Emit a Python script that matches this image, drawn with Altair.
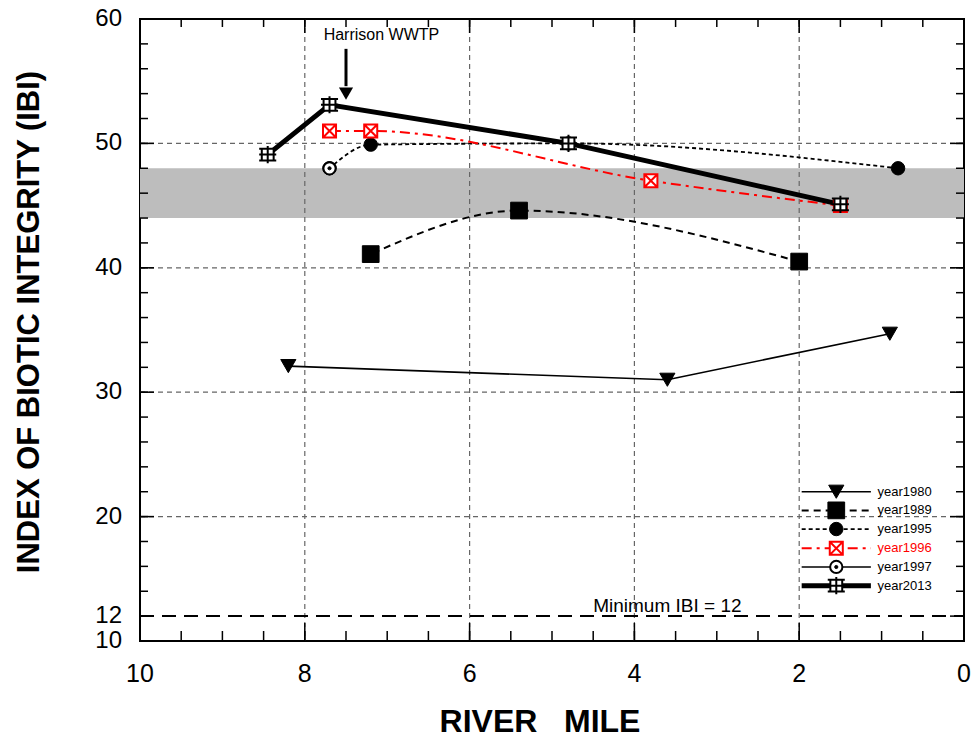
import altair as alt
import pandas as pd

# ---------------- data ----------------
years = ["year1980", "year1989", "year1995", "year1996", "year1997", "year2013"]

mile1980 = [8.2, 3.6, 0.9]
ibi1980 = [32.1, 31.0, 34.7]

mile1989 = [7.2, 5.4, 2.0]
ibi1989 = [41.1, 44.6, 40.5]

mile1995 = [7.7, 7.2, 4.8, 0.8]
ibi1995 = [48.0, 49.9, 50.0, 48.0]

mile1996 = [7.7, 7.2, 3.8, 1.5]
ibi1996 = [51.0, 51.0, 47.0, 45.0]

mile1997 = [7.7]
ibi1997 = [48.0]

mile2013 = [8.45, 7.7, 4.8, 1.5]
ibi2013 = [49.1, 53.1, 50.0, 45.1]

band_low, band_high = 44, 48
min_ibi = 12
grid_x = [8, 6, 4, 2]
grid_y = [20, 30, 40, 50]
x_tick_labels = [0, 2, 4, 6, 8, 10]
y_tick_labels = [10, 12, 20, 30, 40, 50, 60]
wwtp_mile = 7.5

W, H = 824, 622
FONT = "Liberation Sans Narrow, Liberation Sans, Arial"

xs = alt.Scale(domain=[0, 10], reverse=True, nice=False, zero=False)
ys = alt.Scale(domain=[10, 60], nice=False, zero=False)


def df(m, v):
    return pd.DataFrame({"mile": m, "ibi": v})


def X(**kw):
    return alt.X("mile:Q", scale=xs, axis=None, **kw)


def Y(**kw):
    return alt.Y("ibi:Q", scale=ys, axis=None, **kw)


layers = []

# gray band
layers.append(
    alt.Chart(pd.DataFrame({"lo": [band_low], "hi": [band_high]}))
    .mark_rect(color="#bdbdbd")
    .encode(x=alt.value(0), x2=alt.value(W),
            y=alt.Y("lo:Q", scale=ys, axis=None), y2="hi:Q")
)

# grid lines
layers.append(
    alt.Chart(pd.DataFrame({"mile": grid_x}))
    .mark_rule(color="#666666", strokeDash=[5, 4], strokeWidth=1.2)
    .encode(x=X(), y=alt.value(0), y2=alt.value(H))
)
layers.append(
    alt.Chart(pd.DataFrame({"ibi": grid_y}))
    .mark_rule(color="#666666", strokeDash=[5, 4], strokeWidth=1.2)
    .encode(y=Y(), x=alt.value(0), x2=alt.value(W))
)

# minimum IBI line
layers.append(
    alt.Chart(pd.DataFrame({"ibi": [min_ibi]}))
    .mark_rule(color="black", strokeDash=[14, 8], strokeWidth=2)
    .encode(y=Y(), x=alt.value(0), x2=alt.value(W))
)
layers.append(
    alt.Chart(pd.DataFrame({"mile": [3.6], "ibi": [12.85], "t": ["Minimum IBI = 12"]}))
    .mark_text(font=FONT, fontSize=19, color="black", align="center", baseline="middle")
    .encode(x=X(), y=Y(), text="t:N")
)

# ticks (inside)
y_minor = list(range(10, 61, 2))
x_minor = [i / 2 for i in range(0, 21)]
tick_style = dict(color="black", strokeWidth=1.5)
layers += [
    alt.Chart(pd.DataFrame({"ibi": y_minor})).mark_rule(**tick_style)
    .encode(y=Y(), x=alt.value(0), x2=alt.value(8)),
    alt.Chart(pd.DataFrame({"ibi": y_tick_labels})).mark_rule(**tick_style)
    .encode(y=Y(), x=alt.value(0), x2=alt.value(14)),
    alt.Chart(pd.DataFrame({"ibi": y_minor})).mark_rule(**tick_style)
    .encode(y=Y(), x=alt.value(W - 8), x2=alt.value(W)),
    alt.Chart(pd.DataFrame({"ibi": y_tick_labels})).mark_rule(**tick_style)
    .encode(y=Y(), x=alt.value(W - 14), x2=alt.value(W)),
    alt.Chart(pd.DataFrame({"mile": x_minor})).mark_rule(**tick_style)
    .encode(x=X(), y=alt.value(H - 10), y2=alt.value(H)),
    alt.Chart(pd.DataFrame({"mile": x_tick_labels})).mark_rule(**tick_style)
    .encode(x=X(), y=alt.value(H - 18), y2=alt.value(H)),
    alt.Chart(pd.DataFrame({"mile": x_minor})).mark_rule(**tick_style)
    .encode(x=X(), y=alt.value(0), y2=alt.value(8)),
    alt.Chart(pd.DataFrame({"mile": x_tick_labels})).mark_rule(**tick_style)
    .encode(x=X(), y=alt.value(0), y2=alt.value(14)),
]

# marker shapes
XBOX = "M-1,-1L1,-1L1,1L-1,1Z M-1,-1L1,1 M1,-1L-1,1"
GRIDBOX = "M-0.8,-0.8L0.8,-0.8L0.8,0.8L-0.8,0.8Z M0,-1.15L0,1.15 M-1.15,0L1.15,0 M-1.15,-0.8L-0.8,-0.8 M0.8,-0.8L1.15,-0.8 M-1.15,0.8L-0.8,0.8 M0.8,0.8L1.15,0.8"

# series lines
line_specs = [
    (mile1980, ibi1980, dict(color="black", strokeWidth=1.6, interpolate="linear")),
    (mile1989, ibi1989, dict(color="black", strokeWidth=2, strokeDash=[7, 5], interpolate="monotone")),
    (mile1995, ibi1995, dict(color="black", strokeWidth=1.8, strokeDash=[4, 3], interpolate="monotone")),
    (mile1996, ibi1996, dict(color="#ff0000", strokeWidth=2, strokeDash=[10, 5, 3, 5], interpolate="monotone")),
    (mile2013, ibi2013, dict(color="black", strokeWidth=5, interpolate="linear")),
]
for m, v, st in line_specs:
    layers.append(alt.Chart(df(m, v)).mark_line(**st).encode(x=X(), y=Y(), order="mile:Q"))


def marks(m, v, shape, size, fill, stroke, sw, filled=True):
    return (alt.Chart(df(m, v))
            .mark_point(shape=shape, size=size, filled=filled, fill=fill, stroke=stroke,
                        strokeWidth=sw, opacity=1, fillOpacity=1)
            .encode(x=X(), y=Y()))


layers += [
    marks(mile1980, ibi1980, "triangle-down", 230, "black", "black", 1),
    marks(mile1989, ibi1989, "square", 280, "black", "black", 1),
    marks(mile1995, ibi1995, "circle", 180, "black", "black", 1),
    marks(mile1996, ibi1996, XBOX, 170, "white", "#ff0000", 2),
    marks(mile1997, ibi1997, "circle", 150, "white", "black", 2),
    marks(mile1997, ibi1997, "circle", 10, "black", "black", 1),
    marks(mile2013, ibi2013, GRIDBOX, 220, "white", "black", 2),
]

# Harrison WWTP annotation
layers += [
    alt.Chart(pd.DataFrame({"mile": [wwtp_mile], "ibi": [57.6], "ibi2": [54.6]}))
    .mark_rule(color="black", strokeWidth=3)
    .encode(x=X(), y=Y(), y2="ibi2:Q"),
    alt.Chart(pd.DataFrame({"mile": [wwtp_mile], "ibi": [54.0]}))
    .mark_point(shape="triangle-down", size=200, filled=True, color="black", opacity=1)
    .encode(x=X(), y=Y()),
    alt.Chart(pd.DataFrame({"mile": [7.07], "ibi": [58.7], "t": ["Harrison WWTP"]}))
    .mark_text(font="Liberation Sans, Arial", fontSize=16, color="black", align="center", baseline="middle")
    .encode(x=X(), y=Y(), text="t:N"),
]

# legend
leg_rows = [22.0, 20.5, 19.0, 17.45, 15.95, 14.45]
leg_line = [
    dict(color="black", strokeWidth=1.6),
    dict(color="black", strokeWidth=2, strokeDash=[7, 5]),
    dict(color="black", strokeWidth=1.8, strokeDash=[4, 3]),
    dict(color="#ff0000", strokeWidth=2, strokeDash=[10, 5, 3, 5]),
    dict(color="black", strokeWidth=1.6),
    dict(color="black", strokeWidth=5),
]
leg_mark = [
    ("triangle-down", 230, "black", "black", 1),
    ("square", 280, "black", "black", 1),
    ("circle", 180, "black", "black", 1),
    (XBOX, 170, "white", "#ff0000", 2),
    ("circle", 150, "white", "black", 2),
    (GRIDBOX, 220, "white", "black", 2),
]
for i, name in enumerate(years):
    row = leg_rows[i]
    layers.append(
        alt.Chart(pd.DataFrame({"mile": [1.97], "m2": [1.13], "ibi": [row]}))
        .mark_rule(**leg_line[i])
        .encode(x=X(), x2="m2:Q", y=Y())
    )
    sh, sz, fl, sk, sw = leg_mark[i]
    layers.append(marks([1.55], [row], sh, sz, fl, sk, sw))
    if name == "year1997":
        layers.append(marks([1.55], [row], "circle", 10, "black", "black", 1))
    layers.append(
        alt.Chart(pd.DataFrame({"mile": [1.05], "ibi": [row], "t": [name]}))
        .mark_text(font="Liberation Sans, Arial", fontSize=13, align="left", baseline="middle",
                   color="#ff0000" if name == "year1996" else "black")
        .encode(x=X(), y=Y(), text="t:N")
    )

# tick labels as text marks
layers += [
    alt.Chart(pd.DataFrame({"mile": x_tick_labels}))
    .mark_text(font=FONT, fontSize=25, color="black", align="center", baseline="middle")
    .encode(x=X(), y=alt.value(H + 33), text=alt.Text("mile:Q", format="d")),
    alt.Chart(pd.DataFrame({"ibi": y_tick_labels}))
    .mark_text(font=FONT, fontSize=24, color="black", align="right", baseline="middle")
    .encode(y=Y(), x=alt.value(-18), text=alt.Text("ibi:Q", format="d")),
]

# titles
layers += [
    alt.Chart(pd.DataFrame({"t": ["INDEX OF BIOTIC INTEGRITY (IBI)"]}))
    .mark_text(font=FONT, fontSize=31, fontWeight="bold", angle=270, color="black",
               align="center", baseline="middle")
    .encode(x=alt.value(-110), y=alt.value(303), text="t:N"),
    alt.Chart(pd.DataFrame({"t": ["RIVER\u00a0\u00a0\u00a0MILE"]}))
    .mark_text(font=FONT, fontSize=32, fontWeight="bold", color="black",
               align="center", baseline="middle")
    .encode(x=alt.value(400), y=alt.value(703), text="t:N"),
]

chart = (
    alt.layer(*layers)
    .properties(width=W, height=H, padding={"left": 140, "top": 19, "right": 13, "bottom": 100},
                autosize=alt.AutoSizeParams(type="none"), background="white")
    .configure_view(stroke="black", strokeWidth=2)
)

chart.save("out.html", embed_options={"renderer": "svg", "actions": False})
